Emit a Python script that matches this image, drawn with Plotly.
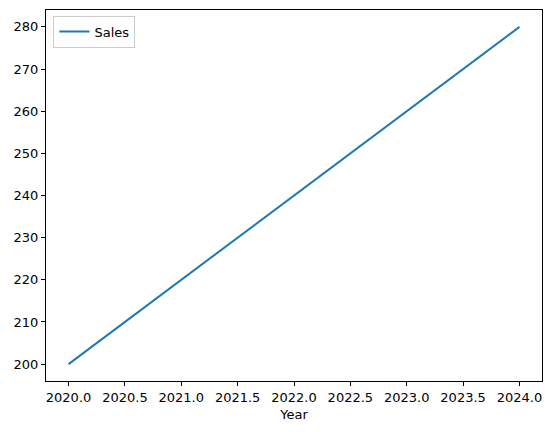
import plotly.graph_objects as go

years = [2020, 2021, 2022, 2023, 2024]
sales = [200, 220, 240, 260, 280]

fig = go.Figure()
fig.add_trace(go.Scatter(x=years, y=sales, mode="lines", name="Sales",
                         line=dict(color="#1f77b4", width=2)))

axis_common = dict(showline=True, linecolor="black", linewidth=1, mirror=True,
                   ticks="outside", ticklen=4, tickcolor="black", showgrid=False,
                   zeroline=False, tickfont=dict(family="DejaVu Sans", size=13, color="black"))

fig.update_layout(
    width=553, height=432,
    margin=dict(l=46, r=11, t=10, b=51),
    paper_bgcolor="white", plot_bgcolor="white",
    font=dict(family="DejaVu Sans", size=13, color="black"),
    xaxis=dict(range=[2019.8, 2024.2], dtick=0.5, tick0=2020, tickformat=".1f",
               title=dict(text="Year", standoff=6, font=dict(size=13)), **axis_common),
    yaxis=dict(range=[196, 284], dtick=10, tick0=200, **axis_common),
    showlegend=True,
    legend=dict(x=0.015, y=0.985, xanchor="left", yanchor="top",
                bgcolor="rgba(255,255,255,0.8)", bordercolor="#cccccc", borderwidth=1,
                font=dict(size=13), itemwidth=30, entrywidth=80, entrywidthmode="pixels"),
)

fig.write_html("out.html", config={"displayModeBar": False},
               post_script="document.body.style.margin='0';document.body.style.padding='0';")
